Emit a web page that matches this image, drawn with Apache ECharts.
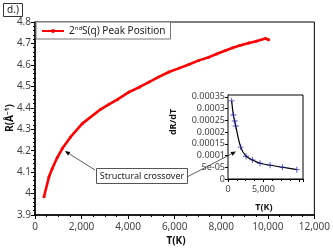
<!DOCTYPE html>
<html><head><meta charset="utf-8">
<script src="https://cdn.jsdelivr.net/npm/echarts@6/dist/echarts.min.js"></script>
<style>html,body{margin:0;padding:0;background:#fff}#c{width:333px;height:252px}</style>
</head><body><div id="c"></div>
<script>
// Main series: 2nd S(q) peak position vs temperature
const peakT = [386, 600, 742, 957, 1172, 1530, 2030, 2820, 3176, 3530, 4034, 4500, 4893, 5300, 5751, 6200, 6609, 7040, 7468, 7800, 8184, 8500, 8800, 9185, 9500, 9900, 10040];
const peakR = [3.985, 4.078, 4.117, 4.168, 4.21, 4.264, 4.326, 4.393, 4.416, 4.438, 4.473, 4.497, 4.52, 4.543, 4.567, 4.585, 4.602, 4.621, 4.636, 4.651, 4.667, 4.68, 4.69, 4.702, 4.71, 4.723, 4.717];
// Inset: dR/dT vs temperature
const rateT = [520, 755, 945, 1090, 1795, 2550, 3450, 4530, 5950, 7690, 9730];
const rateV = [0.000333, 0.000273, 0.000247, 0.000226, 0.000136, 0.0000972, 0.0000814, 0.0000672, 0.0000587, 0.0000501, 0.0000398];
const insetYLabels = ['0', '5e-05', '0.0001', '0.00015', '0.0002', '0.00025', '0.0003', '0.00035'];
const insetXLabels = ['0', '5,000'];
const legendName = '2ndS(q) Peak Position';
const annotationText = 'Structural crossover';

const FONT = 'Noto Sans';
const chart = echarts.init(document.getElementById('c'), null, {renderer: 'canvas'});
const fmtK = v => v.toLocaleString('en-US');
const plus = 'path://M0,3.4H8V4.6H0ZM3.4,0H4.6V8H3.4Z';

chart.setOption({
  animation: false,
  textStyle: {fontFamily: FONT},
  grid: [
    {left: 35, right: 17, top: 22, bottom: 37, show: true, borderColor: '#000', borderWidth: 1},
    {left: 228, right: 30, top: 95, bottom: 73, show: true, borderColor: '#000', borderWidth: 1, backgroundColor: '#fff', z: 5}
  ],
  legend: {
    left: 36, top: 22, orient: 'horizontal',
    backgroundColor: '#fff', borderColor: '#777', borderWidth: 1, borderRadius: 0,
    padding: [3, 5, 3, 5], itemWidth: 22, itemHeight: 5,
    data: [{name: legendName}],
    formatter: () => '2{s|nd}S(q) Peak Position',
    textStyle: {fontFamily: FONT, fontSize: 10, color: '#222',
      rich: {s: {fontFamily: FONT, fontSize: 6, color: '#222', padding: [0, 0, 6, 0]}}}
  },
  xAxis: [
    {gridIndex: 0, type: 'value', min: 0, max: 12000, interval: 2000,
      axisLine: {show: true, lineStyle: {color: '#000', width: 1.5}},
      axisTick: {show: true, length: 4, lineStyle: {color: '#000'}},
      minorTick: {show: true, splitNumber: 4, length: 2, lineStyle: {color: '#000'}},
      splitLine: {show: false},
      axisLabel: {fontFamily: FONT, fontSize: 10, color: '#444', margin: 7, formatter: fmtK}},
    {gridIndex: 1, type: 'value', min: 0, max: 10600, interval: 5000,
      axisLine: {show: true, onZero: false, lineStyle: {color: '#000', width: 1}},
      axisTick: {show: true, length: 3, lineStyle: {color: '#000'}},
      minorTick: {show: true, splitNumber: 4, length: 2, lineStyle: {color: '#000'}},
      splitLine: {show: false},
      axisLabel: {fontFamily: FONT, fontSize: 9, color: '#444', margin: 6, showMaxLabel: false,
        formatter: v => insetXLabels[Math.round(v / 5000)] || ''}}
  ],
  yAxis: [
    {gridIndex: 0, type: 'value', min: 3.9, max: 4.8, interval: 0.1,
      axisLine: {show: true, lineStyle: {color: '#000', width: 1.5}},
      axisTick: {show: true, length: 4, lineStyle: {color: '#000'}},
      minorTick: {show: true, splitNumber: 5, length: 2, lineStyle: {color: '#000'}},
      splitLine: {show: false},
      axisLabel: {fontFamily: FONT, fontSize: 10, color: '#444', margin: 4,
        formatter: v => String(+v.toFixed(1))}},
    {gridIndex: 1, type: 'value', min: 0, max: 0.000358, interval: 0.00005,
      axisLine: {show: true, onZero: false, lineStyle: {color: '#000', width: 1}},
      axisTick: {show: true, length: 3, lineStyle: {color: '#000'}},
      minorTick: {show: false},
      splitLine: {show: false},
      axisLabel: {fontFamily: FONT, fontSize: 9, color: '#444', margin: 3, showMaxLabel: false, showMinLabel: true, hideOverlap: false,
        formatter: v => insetYLabels[Math.round(v / 0.00005)] || ''}}
  ],
  series: [
    {name: legendName, type: 'line', xAxisIndex: 0, yAxisIndex: 0,
      data: peakT.map((t, i) => [t, peakR[i]]),
      symbol: 'circle', symbolSize: 3, showSymbol: true,
      lineStyle: {color: '#ff0000', width: 2.6}, itemStyle: {color: '#ff0000'}, z: 3},
    {name: 'dRdT', type: 'line', xAxisIndex: 1, yAxisIndex: 1,
      data: rateT.map((t, i) => [t, rateV[i]]), smooth: 0.35,
      showSymbol: false, lineStyle: {color: '#000', width: 1.2}, z: 6},
    {name: 'dRdTpts', type: 'scatter', xAxisIndex: 1, yAxisIndex: 1,
      data: rateT.map((t, i) => [t, rateV[i]]),
      symbol: plus, symbolSize: 6, itemStyle: {color: '#1a1aa8'}, z: 7}
  ]
});

// Annotation arrows target points computed through the axes
const p1 = chart.convertToPixel({xAxisIndex: 0, yAxisIndex: 0}, [1286, 4.198]);
const p2 = chart.convertToPixel({xAxisIndex: 1, yAxisIndex: 1}, [1130, 0.000117]);
const box = {x: 96, y: 168, w: 91, h: 15};
function arrow(from, to) {
  const ang = Math.atan2(to[1] - from[1], to[0] - from[0]);
  const L = 5, W = 2.2;
  const bx = to[0] - L * Math.cos(ang), by = to[1] - L * Math.sin(ang);
  const nx = -Math.sin(ang) * W, ny = Math.cos(ang) * W;
  return [
    {type: 'line', shape: {x1: from[0], y1: from[1], x2: bx, y2: by}, style: {stroke: '#333', lineWidth: 0.8}, z: 20},
    {type: 'polygon', shape: {points: [to, [bx + nx, by + ny], [bx - nx, by - ny]]}, style: {fill: '#000'}, z: 20}
  ];
}
chart.setOption({
  graphic: [
    {type: 'rect', shape: {x: 3.5, y: 3.5, width: 19, height: 13}, style: {fill: '#fff', stroke: '#333', lineWidth: 1}, z: 20},
    {type: 'text', x: 13, y: 10.5, style: {text: 'd.)', font: '10px "Noto Sans"', fill: '#222', textAlign: 'center', textVerticalAlign: 'middle'}, z: 21},
    {type: 'text', x: 10, y: 118, rotation: Math.PI / 2, style: {text: 'R(Å⁻¹)', font: 'bold 10px "Noto Sans"', fill: '#111', textAlign: 'center', textVerticalAlign: 'middle'}, z: 21},
    {type: 'text', x: 176, y: 241, style: {text: 'T(K)', font: 'bold 10px "Noto Sans"', fill: '#111', textAlign: 'center', textVerticalAlign: 'middle'}, z: 21},
    {type: 'text', x: 173, y: 122, rotation: Math.PI / 2, style: {text: 'dR/dT', font: 'bold 9px "Noto Sans"', fill: '#111', textAlign: 'center', textVerticalAlign: 'middle'}, z: 21},
    {type: 'text', x: 264, y: 207, style: {text: 'T(K)', font: 'bold 9px "Noto Sans"', fill: '#111', textAlign: 'center', textVerticalAlign: 'middle'}, z: 21},
    ...arrow([box.x - 1, box.y + 2], p1),
    ...arrow([box.x + box.w, box.y + 9], p2),
    {type: 'rect', shape: {x: box.x + 0.5, y: box.y + 0.5, width: box.w, height: box.h}, style: {fill: '#fff', stroke: '#555', lineWidth: 1}, z: 22},
    {type: 'text', x: box.x + box.w / 2 + 0.5, y: box.y + box.h / 2 + 0.5, style: {text: annotationText, font: '9px "Noto Sans"', fill: '#222', textAlign: 'center', textVerticalAlign: 'middle'}, z: 23}
  ]
});
</script></body></html>
